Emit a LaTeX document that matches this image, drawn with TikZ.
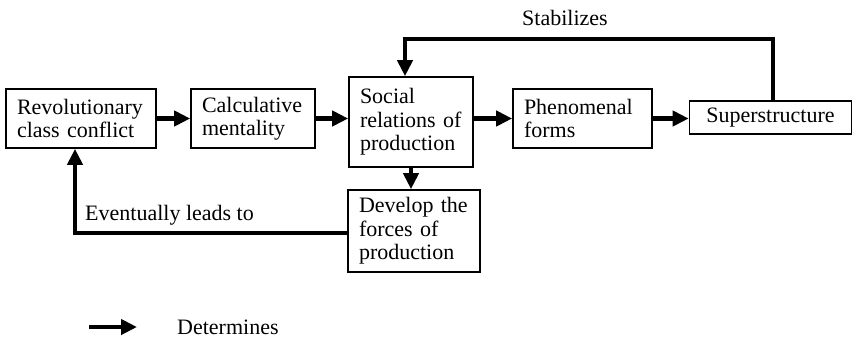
\documentclass[tikz,border=0pt]{standalone}
\usepackage{fontspec}
\setmainfont{Liberation Serif}
\usetikzlibrary{arrows.meta}
\begin{document}
\begin{tikzpicture}[x=1pt,y=-1pt,
  box/.style={draw, line width=1.6pt, rectangle, inner xsep=11pt, inner ysep=0pt, align=left,
    font=\fontsize{22}{23.5}\selectfont},
  conn/.style={line width=4.5pt, -{Triangle[length=16pt,width=15pt]}},
  lbl/.style={font=\fontsize{22}{23.5}\selectfont, inner sep=0pt}]
\useasboundingbox (0,0) rectangle (853,341);
\node[box, text width=128pt, minimum height=59pt] (rev) at (81,118.5) {Revolutionary\\class conflict};
\node[box, text width=102pt, minimum height=59pt] (calc) at (253,118.5) {Calculative\\mentality};
\node[box, text width=102pt, minimum height=90pt] (soc) at (411,122) {Social\\relations of\\production};
\node[box, text width=117pt, minimum height=59pt] (phen) at (582.5,118.5) {Phenomenal\\forms};
\node[box, text width=140pt, minimum height=33pt, align=center] (sup) at (770.5,117.5) {Superstructure};
\node[box, text width=110pt, minimum height=82pt] (dev) at (414,231) {Develop the\\forces of\\production};
\draw[conn] (rev.east) -- (calc.west);
\draw[conn] (calc.east) -- (soc.west |- calc.east);
\draw[conn] (soc.east |- phen.west) -- (phen.west);
\draw[conn] (phen.east) -- (sup.west |- phen.east);
\coordinate (stabR) at (773,39);
\coordinate (stabL) at (405,39);
\draw[conn] (sup.north -| stabR) -- (stabR) -- (stabL) -- (stabL |- soc.north);
\node[lbl, anchor=base] (stablbl) at (565,25) {Stabilizes};
\draw[conn] (soc.south -| 411,0) -- (dev.north -| 411,0);
\coordinate (evL) at (75,233);
\draw[conn] (dev.west |- evL) -- (evL) -- (evL |- rev.south);
\node[lbl, anchor=base west] (evlbl) at (85,220) {Eventually leads to};
\coordinate (legA) at (89,327);
\coordinate (legB) at (137,327);
\draw[conn] (legA) -- (legB);
\node[lbl, anchor=base west] (detlbl) at (177,334) {Determines};
\end{tikzpicture}
\end{document}
